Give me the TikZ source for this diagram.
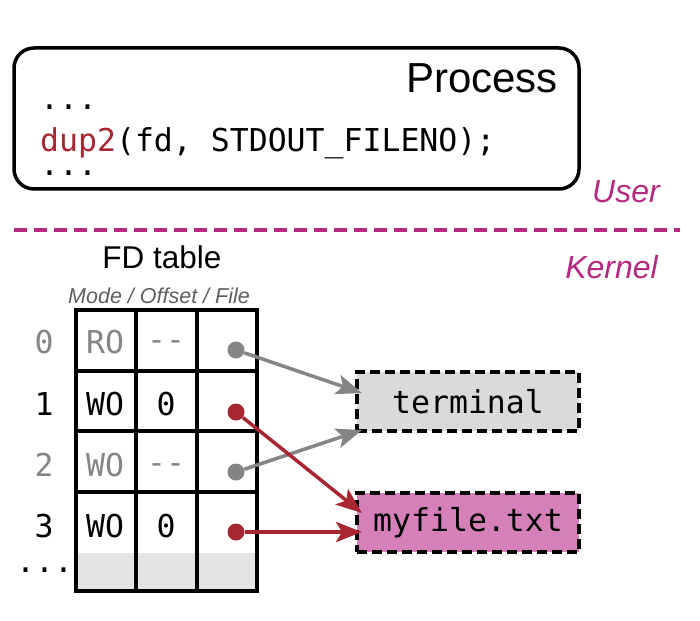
\documentclass[tikz,border=0pt]{standalone}
\usepackage{fontspec}
\setmainfont{Liberation Sans}
\newfontfamily\codefont{DejaVu Sans Mono}
\usetikzlibrary{arrows.meta}
\definecolor{umag}{HTML}{B5297F}
\definecolor{pinkfill}{HTML}{D680BA}
\definecolor{termfill}{HTML}{D9DAD9}
\definecolor{fdred}{HTML}{A82631}
\definecolor{fdgray}{HTML}{858585}
\definecolor{cellgray}{HTML}{E4E4E4}
\definecolor{labgray}{HTML}{5E5E5E}
\begin{document}
\begin{tikzpicture}[x=1pt,y=-1pt,
  code/.style={font=\codefont\fontsize{31.5}{36}\selectfont, inner sep=0pt, anchor=base},
  label/.style={inner sep=0pt, anchor=base},
  grid/.style={line width=4pt},
  ptr/.style={circle, inner sep=0pt, minimum size=17pt},
  filebox/.style={draw=black, line width=3.5pt, dash pattern=on 10pt off 5pt,
    minimum width=222pt, minimum height=59pt, inner sep=0pt,
    font=\codefont\fontsize{31.5}{36}\selectfont},
  arr/.style={line width=3.5pt, -{Stealth[length=26pt,width=20pt,inset=6pt]}}
]
\path[use as bounding box] (0,0) rectangle (700,620);

% process box
\node[draw=black, line width=3.5pt, rounded corners=20pt, minimum width=565pt,
  minimum height=141pt, inner sep=0pt] (proc) at (296.5,118.5) {};
\node[label, anchor=base east, font=\fontsize{42}{48}\selectfont] (ptitle) at (558,93) {Process};
\node[code, anchor=base west] (dotsa) at (40,110) {...};
\node[code, anchor=base west] (call) at (40,152) {\textcolor{fdred}{dup2}(fd, STDOUT\_FILENO);};
\node[code, anchor=base west] (dotsb) at (40,176) {...};

% user / kernel separator
\coordinate (sepL) at (14,230);
\coordinate (sepR) at (680,230);
\draw[umag, line width=3.5pt, dash pattern=on 13pt off 7pt] (sepL) -- (sepR);
\node[label, anchor=base east, text=umag, font=\itshape\fontsize{32}{36}\selectfont] (user) at (660,203) {User};
\node[label, anchor=base east, text=umag, font=\itshape\fontsize{32}{36}\selectfont] (kernel) at (658,278) {Kernel};

% FD table
\node[label, font=\fontsize{31.5}{36}\selectfont] (fdt) at (162,268) {FD table};
\node[label, text=labgray, font=\itshape\fontsize{21.5}{24}\selectfont] (cols) at (159,303) {Mode / Offset / File};

\fill[cellgray] (75.5,553) rectangle (257,591);
\draw[grid] (75.5,310) rectangle (257,591);
\draw[grid] (135.5,310) -- (135.5,591);
\draw[grid] (197,310) -- (197,591);
\draw[grid] (75.5,370.5) -- (257,370.5);
\draw[grid] (75.5,431) -- (257,431);
\draw[grid] (75.5,492) -- (257,492);

% row 0
\node[code, text=fdgray] (r0) at (44,353) {0};
\node[code, text=fdgray] (m0) at (105,353) {RO};
\node[code, text=fdgray] (o0) at (166,350) {--};
% row 1
\node[code] (r1) at (44,415) {1};
\node[code] (m1) at (105,415) {WO};
\node[code] (o1) at (166,415) {0};
% row 2
\node[code, text=fdgray] (r2) at (44,476) {2};
\node[code, text=fdgray] (m2) at (105,476) {WO};
\node[code, text=fdgray] (o2) at (166,473) {--};
% row 3
\node[code] (r3) at (44,537) {3};
\node[code] (m3) at (105,537) {WO};
\node[code] (o3) at (166,537) {0};
\node[code, anchor=base west] (more) at (16,572) {...};

% pointer dots
\node[ptr, fill=fdgray] (p0) at (236,350) {};
\node[ptr, fill=fdred] (p1) at (236,412) {};
\node[ptr, fill=fdgray] (p2) at (236,472) {};
\node[ptr, fill=fdred] (p3) at (236,532) {};

% files
\node[filebox, fill=termfill] (term) at (468,401.5) {terminal};
\node[filebox, fill=pinkfill] (myfile) at (468,522.5) {myfile.txt};

\coordinate (t0) at (362,393);
\coordinate (t2) at (362,430);
\coordinate (t1) at (362,513);
\coordinate (t3) at (362,532);

\draw[arr, fdgray] (p0) -- (t0);
\draw[arr, fdgray] (p2) -- (t2);
\draw[arr, fdred] (p1) -- (t1);
\draw[arr, fdred] (p3) -- (t3);
\end{tikzpicture}
\end{document}
